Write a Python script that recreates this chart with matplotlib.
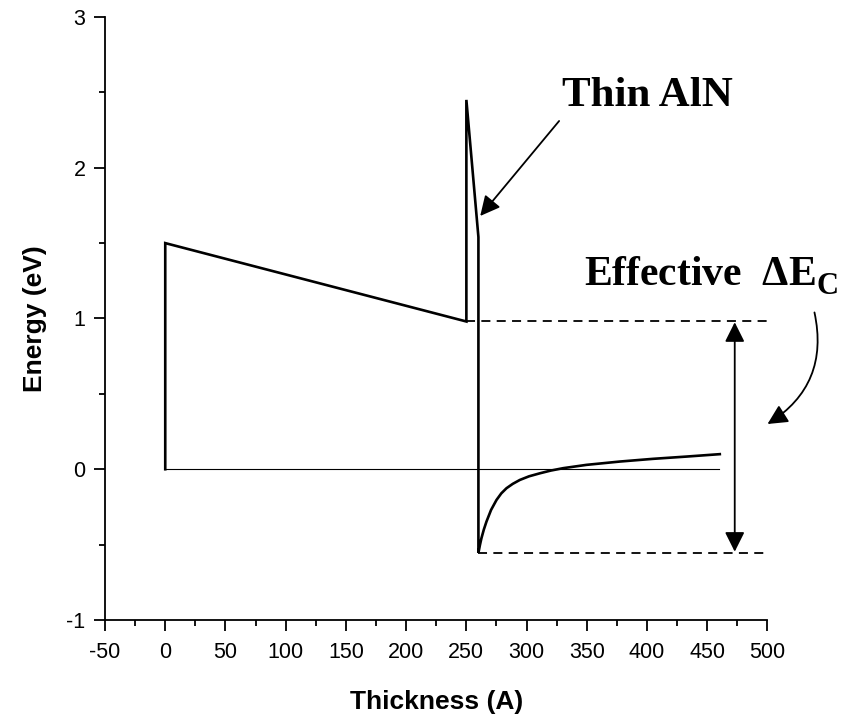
import matplotlib
matplotlib.use("Agg")
import matplotlib.pyplot as plt
from matplotlib.ticker import MultipleLocator

# band profile (thickness in A, energy in eV)
band_x = [0, 0, 250, 250, 260, 260, 261.2, 262.5, 264.5, 266.7, 270.5, 275, 279,
          283.3, 288.5, 294.4, 302, 311, 320, 330.3, 349.7, 377.4, 405, 432.7, 460.4]
band_y = [0, 1.5, 0.98, 2.45, 1.54, -0.555, -0.505, -0.458, -0.40, -0.347, -0.27,
          -0.204, -0.16, -0.126, -0.097, -0.071, -0.047, -0.027, -0.009, 0.007,
          0.029, 0.051, 0.069, 0.084, 0.10]
zero_x = [0, 460]
zero_y = [0, 0]
upper_level = 0.985
lower_level = -0.557
upper_dash_x = [250, 517]
lower_dash_x = [260, 513]
arrow_x = 472.8

plt.rcParams['font.family'] = ['Liberation Sans', 'DejaVu Sans']
plt.rcParams['axes.unicode_minus'] = False
plt.rcParams['mathtext.fontset'] = 'custom'
plt.rcParams['mathtext.rm'] = 'Liberation Serif:bold'
plt.rcParams['mathtext.bf'] = 'Liberation Serif:bold'
plt.rcParams['mathtext.it'] = 'Liberation Serif:bold'

fig = plt.figure(figsize=(8.49, 7.19), dpi=100)
ax = fig.add_axes([0.1237, 0.1377, 0.904 - 0.1237, 0.9764 - 0.1377])

ax.plot(zero_x, zero_y, color='black', lw=0.8)
ax.plot(band_x, band_y, color='black', lw=1.9, solid_joinstyle='miter')
ax.plot(upper_dash_x, [upper_level, upper_level], color='black', lw=1.3,
        dashes=(5, 3.5))
ax.plot(lower_dash_x, [lower_level, lower_level], color='black', lw=1.3,
        dashes=(5, 3.5))

# double arrow for effective conduction band offset
ax.annotate('', xy=(arrow_x, upper_level - 0.01), xytext=(arrow_x, lower_level + 0.01),
            arrowprops=dict(arrowstyle='<|-|>', color='black', lw=1.3,
                            mutation_scale=30, shrinkA=0, shrinkB=0))

# Thin AlN label + arrow
ax.annotate('', xy=(261.5, 1.68), xytext=(327, 2.31),
            arrowprops=dict(arrowstyle='-|>', color='black', lw=1.3,
                            mutation_scale=30, shrinkA=0, shrinkB=0))
ax.text(329, 2.41, 'Thin AlN', family='Liberation Serif', fontweight='bold',
        fontsize=31, ha='left', va='baseline')

ax.text(348, 1.22, r'Effective  $\Delta$E', family='Liberation Serif',
        fontweight='bold', fontsize=30, ha='left', va='baseline')
ax.text(540.5, 1.165, 'C', family='Liberation Serif', fontweight='bold',
        fontsize=22, ha='left', va='baseline', clip_on=False)

# curved arrow
ax.annotate('', xy=(500, 0.30), xytext=(539, 1.04),
            arrowprops=dict(arrowstyle='-|>', color='black', lw=1.3,
                            mutation_scale=30, shrinkA=0, shrinkB=0,
                            connectionstyle='arc3,rad=-0.35'))

ax.set_xlim(-50, 500)
ax.set_ylim(-1, 3)
ax.xaxis.set_major_locator(MultipleLocator(50))
ax.xaxis.set_minor_locator(MultipleLocator(25))
ax.yaxis.set_major_locator(MultipleLocator(1))
ax.yaxis.set_minor_locator(MultipleLocator(0.5))
for s in ['top', 'right']:
    ax.spines[s].set_visible(False)
for s in ['left', 'bottom']:
    ax.spines[s].set_linewidth(1.3)
ax.tick_params(which='major', direction='out', length=8, width=1.3, labelsize=15.5, pad=6)
ax.tick_params(axis='x', which='major', pad=8)
ax.tick_params(which='minor', direction='out', length=4, width=1.3)

ax.set_xlabel('Thickness (A)', fontsize=19, fontweight='bold', labelpad=19)
ax.set_ylabel('Energy (eV)', fontsize=19, fontweight='bold', labelpad=14)

fig.savefig('out.png', dpi=100)
